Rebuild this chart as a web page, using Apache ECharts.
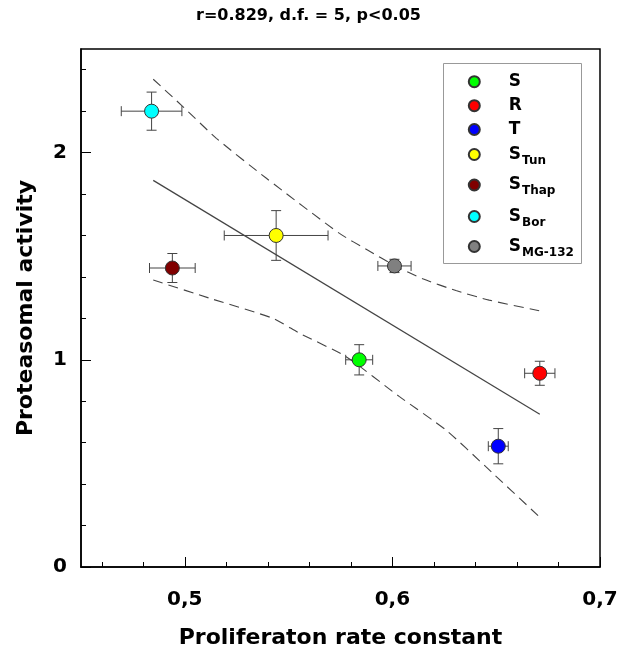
<!DOCTYPE html>
<html><head><meta charset="utf-8">
<script src="https://cdn.jsdelivr.net/npm/echarts@6/dist/echarts.min.js"></script>
<style>html,body{margin:0;padding:0;background:#fff}#c{width:640px;height:670px}</style>
</head><body><div id="c"></div>
<script>
// ---- data ----
const groupMain = ['S', 'R', 'T', 'S', 'S', 'S', 'S'];
const groupSub = ['', '', '', 'Tun', 'Thap', 'Bor', 'MG-132'];
const rateX = [0.584, 0.671, 0.651, 0.544, 0.494, 0.484, 0.601];
const rateXErr = [0.0065, 0.0073, 0.0048, 0.025, 0.011, 0.0146, 0.008];
const activityY = [1.00, 0.935, 0.583, 1.60, 1.443, 2.20, 1.453];
const activityYErr = [0.073, 0.058, 0.085, 0.12, 0.07, 0.092, 0.032];
const fitX = [0.4848, 0.671];
const fitY = [1.866, 0.737];
const upperX = [0.4848, 0.4992, 0.5152, 0.5393, 0.5745, 0.5880, 0.6014, 0.6146, 0.6306, 0.6466, 0.6707];
const upperY = [2.354, 2.221, 2.069, 1.876, 1.610, 1.530, 1.453, 1.391, 1.334, 1.288, 1.237];
const lowerX = [0.4848, 0.5136, 0.5425, 0.5553, 0.5777, 0.6034, 0.6258, 0.6450, 0.6710];
const lowerY = [1.385, 1.292, 1.200, 1.128, 1.015, 0.822, 0.661, 0.484, 0.240];
const xMajorTicks = [0.5, 0.6, 0.7];
const xMinorTicks = [0.46, 0.48, 0.52, 0.54, 0.56, 0.58, 0.62, 0.64, 0.66, 0.68];
const yMajorTicks = [0, 1, 2];
const yMinorTicks = [0.2, 0.4, 0.6, 0.8, 1.2, 1.4, 1.6, 1.8, 2.2, 2.4];
const titleText = 'r=0.829, d.f. = 5, p<0.05';
const xName = 'Proliferaton rate constant';
const yName = 'Proteasomal activity';

// ---- styles / layout ----
const colors = ['#00ff00', '#ff0000', '#0000ff', '#ffff00', '#800000', '#00ffff', '#808080'];
const legendRowY = [81.7, 105.7, 129.5, 154.5, 185, 216.5, 246.5];
const FONT = 'DejaVu Sans';
const names = groupMain.map((m, i) => m + groupSub[i]);

const chart = echarts.init(document.getElementById('c'), null, {renderer: 'canvas'});
const pairs = (xs, ys) => xs.map((x, i) => [x, ys[i]]);
const errStyle = {stroke: '#444', lineWidth: 1, fill: null};
const cap = 5;

const series = [
  {
    type: 'custom', name: 'err', silent: true, z: 3,
    data: rateX.map((x, i) => [x, activityY[i], rateXErr[i], activityYErr[i]]),
    renderItem(params, api) {
      const x = api.value(0), y = api.value(1), ex = api.value(2), ey = api.value(3);
      const c = api.coord([x, y]);
      const l = api.coord([x - ex, y]), r = api.coord([x + ex, y]);
      const t = api.coord([x, y + ey]), b = api.coord([x, y - ey]);
      const L = (x1, y1, x2, y2) => ({type: 'line', shape: {x1, y1, x2, y2}, style: errStyle});
      return {type: 'group', children: [
        L(l[0], c[1], r[0], c[1]), L(l[0], c[1] - cap, l[0], c[1] + cap), L(r[0], c[1] - cap, r[0], c[1] + cap),
        L(c[0], t[1], c[0], b[1]), L(c[0] - cap, t[1], c[0] + cap, t[1]), L(c[0] - cap, b[1], c[0] + cap, b[1])
      ]};
    }
  },
  {type: 'line', name: 'fit', data: pairs(fitX, fitY), showSymbol: false, symbol: 'none', z: 2,
   lineStyle: {color: '#444', width: 1.2}},
  {type: 'line', name: 'upper', data: pairs(upperX, upperY), showSymbol: false, symbol: 'none', z: 2, smooth: 0.2,
   lineStyle: {color: '#444', width: 1.1, type: [10, 6]}},
  {type: 'line', name: 'lower', data: pairs(lowerX, lowerY), showSymbol: false, symbol: 'none', z: 2, smooth: 0.2,
   lineStyle: {color: '#444', width: 1.1, type: [10, 6]}}
];
names.forEach((n, i) => {
  series.push({
    type: 'scatter', name: n, data: [[rateX[i], activityY[i]]], symbol: 'circle', symbolSize: 14, z: 5,
    itemStyle: {color: colors[i], borderColor: '#333', borderWidth: 1, opacity: 1}
  });
});

const richText = {
  a: {fontFamily: FONT, fontWeight: 'bold', fontSize: 17, lineHeight: 24, color: '#000', padding: [0, 0, 0, 24]},
  s: {fontFamily: FONT, fontWeight: 'bold', fontSize: 12, lineHeight: 12, padding: [12, 0, 0, 1], color: '#000'}
};
const legends = names.map((n, i) => ({
  data: [n], orient: 'vertical', left: 467.8, top: legendRowY[i] - 12, padding: 0,
  itemWidth: 11, itemHeight: 11, icon: 'circle', selectedMode: false,
  formatter: () => groupSub[i] ? '{a|' + groupMain[i] + '}{s|' + groupSub[i] + '}' : '{a|' + groupMain[i] + '}',
  textStyle: {fontFamily: FONT, fontWeight: 'bold', fontSize: 17, lineHeight: 24, color: '#000', rich: richText}
}));

const axisFont = {fontFamily: FONT, fontWeight: 'bold', fontSize: 20, color: '#000'};
chart.setOption({
  animation: false,
  backgroundColor: '#fff',
  title: {text: titleText, left: 196, top: 8, padding: 0,
          textStyle: {fontFamily: FONT, fontWeight: 'bold', fontSize: 16, color: '#000'}},
  grid: {left: 81, right: 40, top: 49, bottom: 103, show: true, borderColor: '#000', borderWidth: 1.5},
  graphic: [{type: 'rect', left: 443, top: 63, z: 0, silent: true,
             shape: {width: 138, height: 200}, style: {fill: '#fff', stroke: '#999', lineWidth: 1}}],
  legend: legends,
  xAxis: [
    {type: 'value', min: 0.45, max: 0.7, position: 'bottom',
     name: xName, nameLocation: 'middle', nameGap: 60,
     nameTextStyle: {fontFamily: FONT, fontWeight: 'bold', fontSize: 22, color: '#000'},
     axisLine: {show: true, lineStyle: {color: '#000', width: 1.5}},
     axisTick: {show: true, inside: true, length: 10, customValues: xMajorTicks, lineStyle: {color: '#000', width: 1}},
     axisLabel: {customValues: xMajorTicks, margin: 23, ...axisFont, formatter: v => v.toFixed(1).replace('.', ',')},
     splitLine: {show: false}},
    {type: 'value', min: 0.45, max: 0.7, position: 'bottom',
     axisLine: {show: false},
     axisTick: {show: true, inside: true, length: 5, customValues: xMinorTicks, lineStyle: {color: '#000', width: 1}},
     axisLabel: {show: false}, splitLine: {show: false}}
  ],
  yAxis: [
    {type: 'value', min: 0, max: 2.5, position: 'left',
     name: yName, nameLocation: 'middle', nameGap: 44,
     nameTextStyle: {fontFamily: FONT, fontWeight: 'bold', fontSize: 22, color: '#000'},
     axisLine: {show: true, lineStyle: {color: '#000', width: 1.5}},
     axisTick: {show: true, inside: true, length: 10, customValues: yMajorTicks, lineStyle: {color: '#000', width: 1}},
     axisLabel: {customValues: yMajorTicks, margin: 14, ...axisFont},
     splitLine: {show: false}},
    {type: 'value', min: 0, max: 2.5, position: 'left',
     axisLine: {show: false},
     axisTick: {show: true, inside: true, length: 5, customValues: yMinorTicks, lineStyle: {color: '#000', width: 1}},
     axisLabel: {show: false}, splitLine: {show: false}}
  ],
  series: series
});
</script>
</body></html>
